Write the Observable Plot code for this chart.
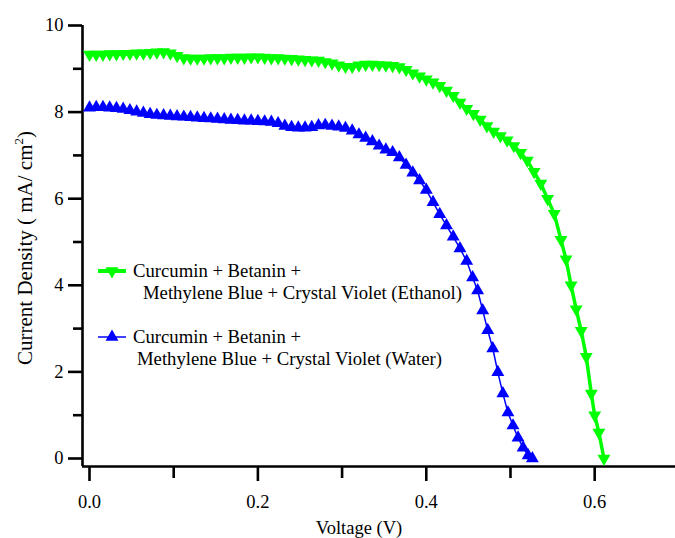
<!DOCTYPE html>
<html>
<head>
<meta charset="utf-8">
<script src="https://cdn.jsdelivr.net/npm/d3@7"></script>
<script src="https://cdn.jsdelivr.net/npm/@observablehq/plot@0.6"></script>
<style>
  html, body { margin: 0; padding: 0; background: #fff; }
  #chart svg { display: block; }
</style>
</head>
<body>
<div id="chart"></div>
<script>
// Series labels
const seriesNames = [
  "Curcumin + Betanin + Methylene Blue + Crystal Violet (Ethanol)",
  "Curcumin + Betanin + Methylene Blue + Crystal Violet (Water)"
];

// Ethanol series (green, down triangles)
const ethanolVoltage = [0.000,0.008,0.016,0.024,0.032,0.040,0.048,0.056,0.064,0.072,0.080,0.088,0.096,0.104,0.112,0.120,0.128,0.136,0.144,0.152,0.160,0.168,0.176,0.184,0.192,0.200,0.208,0.216,0.224,0.232,0.240,0.248,0.256,0.264,0.272,0.280,0.288,0.296,0.304,0.312,0.320,0.328,0.336,0.344,0.352,0.360,0.368,0.376,0.384,0.392,0.400,0.408,0.416,0.424,0.432,0.440,0.448,0.456,0.464,0.472,0.480,0.488,0.496,0.504,0.512,0.520,0.528,0.536,0.544,0.552,0.560,0.566,0.572,0.578,0.584,0.590,0.596,0.600,0.605,0.611];
const ethanolCurrent = [9.33,9.33,9.33,9.34,9.34,9.35,9.35,9.36,9.36,9.37,9.38,9.39,9.36,9.30,9.25,9.24,9.24,9.24,9.25,9.25,9.25,9.26,9.26,9.26,9.27,9.27,9.26,9.25,9.25,9.24,9.23,9.22,9.21,9.20,9.19,9.16,9.13,9.08,9.05,9.05,9.08,9.10,9.10,9.09,9.08,9.07,9.04,8.98,8.90,8.83,8.76,8.69,8.61,8.50,8.38,8.22,8.08,7.96,7.83,7.68,7.55,7.45,7.35,7.22,7.06,6.88,6.62,6.35,6.00,5.65,5.05,4.60,4.00,3.45,2.95,2.35,1.50,1.00,0.60,0.00];

// Water series (blue, up triangles)
const waterVoltage = [0.000,0.008,0.016,0.024,0.032,0.040,0.048,0.056,0.064,0.072,0.080,0.088,0.096,0.104,0.112,0.120,0.128,0.136,0.144,0.152,0.160,0.168,0.176,0.184,0.192,0.200,0.208,0.216,0.224,0.232,0.240,0.248,0.256,0.264,0.272,0.280,0.288,0.296,0.304,0.312,0.320,0.328,0.336,0.344,0.352,0.360,0.368,0.376,0.384,0.392,0.400,0.408,0.416,0.424,0.432,0.440,0.448,0.455,0.461,0.467,0.473,0.479,0.485,0.491,0.497,0.503,0.509,0.515,0.521,0.526];
const waterCurrent = [8.10,8.11,8.11,8.10,8.09,8.07,8.04,8.01,7.98,7.95,7.93,7.92,7.91,7.90,7.89,7.88,7.87,7.86,7.85,7.84,7.83,7.82,7.81,7.80,7.80,7.79,7.78,7.77,7.74,7.68,7.65,7.64,7.64,7.65,7.69,7.70,7.68,7.66,7.63,7.57,7.48,7.40,7.32,7.22,7.13,7.07,6.95,6.78,6.60,6.42,6.20,5.92,5.64,5.38,5.12,4.85,4.56,4.18,3.88,3.42,2.96,2.54,1.99,1.50,1.06,0.76,0.48,0.25,0.07,0.00];

// Ticks
const xMajorTicks = [0, 0.2, 0.4, 0.6];
const xMinorTicks = [0.1, 0.3, 0.5];
const yMajorTicks = [0, 2, 4, 6, 8, 10];
const yMinorTicks = [1, 3, 5, 7, 9];

const ethanol = ethanolVoltage.map((v, i) => ({v, j: ethanolCurrent[i]}));
const water = waterVoltage.map((v, i) => ({v, j: waterCurrent[i]}));

const W = 675, H = 538;
const FONT = "'Liberation Serif', 'Times New Roman', serif";
const GREEN = "#00ff00", BLUE = "#0000ff";
const xOff = -7;   // y-axis line offset (px)
const yOff = 8;    // x-axis line offset (px)

const plot = Plot.plot({
  width: W,
  height: H,
  marginLeft: 89,
  marginRight: 0,
  marginTop: 25,
  marginBottom: 80,
  style: {fontFamily: FONT, fontSize: "18px", color: "#000", background: "#fff"},
  x: {domain: [0, 0.696]},
  y: {domain: [0, 10]},
  marks: [
    // axis lines
    Plot.ruleX([0], {dx: xOff, y1: -0.185, y2: 10, stroke: "#000", strokeWidth: 2.6}),
    Plot.ruleY([0], {dy: yOff, x1: -0.0083, x2: 0.696, stroke: "#000", strokeWidth: 2.6}),
    // y axis
    Plot.axisY(yMajorTicks, {anchor: "left", dx: xOff, tickSize: 14, tickPadding: 5, strokeWidth: 2.6, fontSize: 18.5, label: null, tickFormat: d => String(d)}),
    Plot.axisY(yMinorTicks, {anchor: "left", dx: xOff, tickSize: 9, strokeWidth: 2.6, text: null, label: null}),
    // x axis
    Plot.axisX(xMajorTicks, {anchor: "bottom", dy: yOff, tickSize: 15, tickPadding: 13, strokeWidth: 2.6, fontSize: 18.5, label: null, tickFormat: d => d.toFixed(1)}),
    Plot.axisX(xMinorTicks, {anchor: "bottom", dy: yOff, tickSize: 12, strokeWidth: 2.6, text: null, label: null}),
    // curves
    Plot.line(ethanol, {x: "v", y: "j", stroke: GREEN, strokeWidth: 3.5}),
    Plot.dot(ethanol, {x: "v", y: "j", symbol: "triangle", rotate: 180, r: 4.8, fill: GREEN, stroke: "none"}),
    Plot.line(water, {x: "v", y: "j", stroke: BLUE, strokeWidth: 1.5}),
    Plot.dot(water, {x: "v", y: "j", symbol: "triangle", r: 4.8, fill: BLUE, stroke: "none"})
  ]
});

document.getElementById("chart").appendChild(plot);

const svg = d3.select(plot);

// Axis titles
svg.append("text")
  .attr("x", 359).attr("y", 534)
  .attr("text-anchor", "middle")
  .attr("font-family", FONT).attr("font-size", 18.5).attr("fill", "#000")
  .text("Voltage (V)");

const yt = svg.append("text")
  .attr("transform", "translate(32,248) rotate(-90)")
  .attr("text-anchor", "middle")
  .attr("font-family", FONT).attr("font-size", 21).attr("fill", "#000");
yt.append("tspan").text("Current Density ( mA/ cm");
yt.append("tspan").attr("font-size", 13).attr("dy", -9).text("2");
yt.append("tspan").attr("dy", 9).text(")");

// Legend
const legendItems = [
  {color: GREEN, sw: 4, sym: "down", y: 271, lines: ["Curcumin + Betanin +", "Methylene Blue + Crystal Violet (Ethanol)"], x2: 143},
  {color: BLUE, sw: 1.5, sym: "up", y: 337, lines: ["Curcumin + Betanin +", "Methylene Blue + Crystal Violet (Water)"], x2: 137}
];
const tri = d3.symbol(d3.symbolTriangle, Math.PI * 4.8 * 4.8)();
legendItems.forEach(it => {
  const g = svg.append("g").attr("text-anchor", "start");
  g.append("line").attr("x1", 98).attr("x2", 126).attr("y1", it.y).attr("y2", it.y)
    .attr("stroke", it.color).attr("stroke-width", it.sw);
  g.append("path").attr("d", tri).attr("fill", it.color)
    .attr("transform", `translate(112,${it.y}) rotate(${it.sym === "down" ? 180 : 0})`);
  g.append("text").attr("x", 133).attr("y", it.y + 6).attr("text-anchor", "start")
    .attr("font-family", FONT).attr("font-size", 18.7).attr("fill", "#000").text(it.lines[0]);
  g.append("text").attr("x", it.x2).attr("y", it.y + 28).attr("text-anchor", "start")
    .attr("font-family", FONT).attr("font-size", 18.7).attr("fill", "#000").text(it.lines[1]);
});
</script>
</body>
</html>
